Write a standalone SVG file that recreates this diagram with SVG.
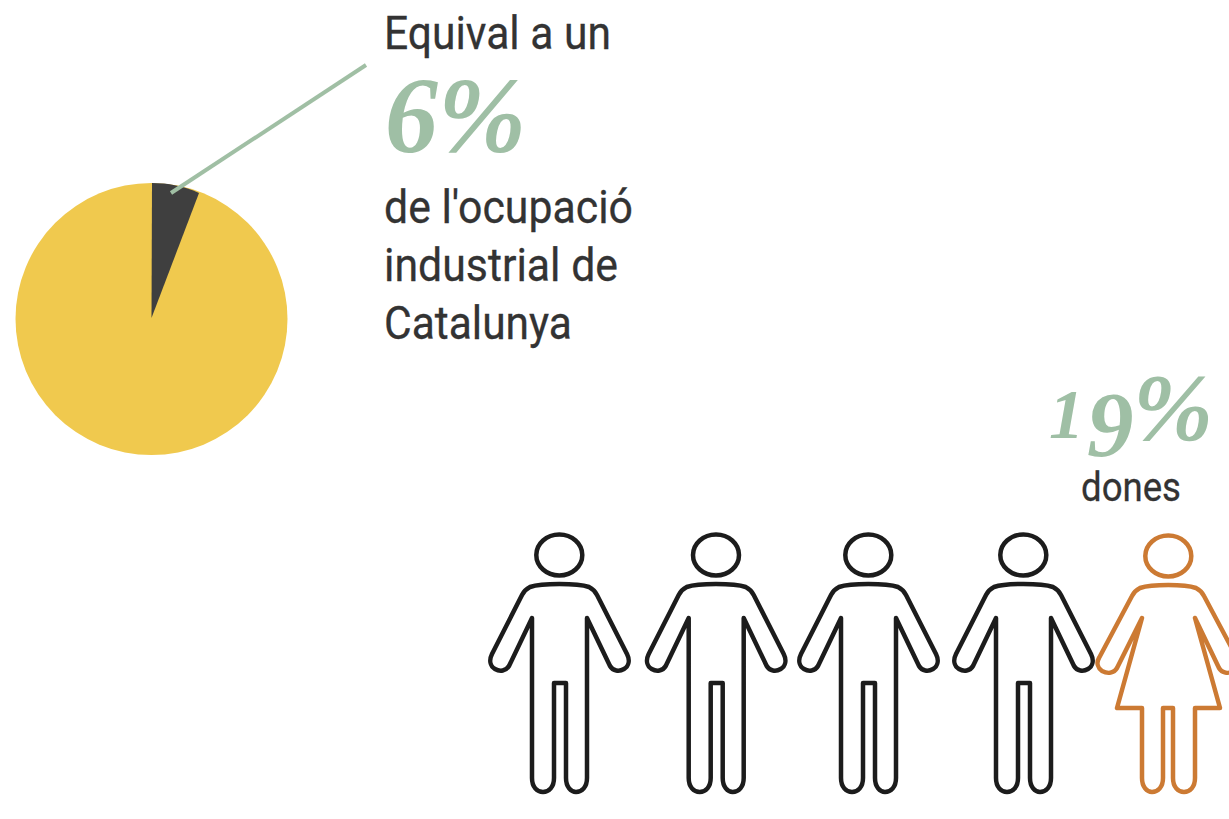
<svg xmlns="http://www.w3.org/2000/svg" width="1229" height="819" viewBox="0 0 1229 819">
<style>
.t{font-family:Roboto,"Liberation Sans",sans-serif;fill:#333333;font-size:47px;stroke:#333333;stroke-width:.3}
.n{font-family:"Liberation Serif","DejaVu Serif",serif;font-weight:bold;font-style:italic;fill:#9FBFA5}
.m{fill:none;stroke:#1c1c1c;stroke-width:4.500;stroke-linejoin:round}
.w{fill:none;stroke:#CC7A33;stroke-width:4.500;stroke-linejoin:round}
</style>
<defs>
<g id="man">
<ellipse cx="559.3" cy="555" rx="23" ry="20.5"/>
<path d="M559.3 584C545 584 536 585 530 587C526 589 524 591 522 595L492 654C489 660 490 666 495 669C500 672 506 671 509 666L532 618V778C532 787 537 792 543 792C549 792 554 787 554 778V683H566V778C566 787 571 792 576 792C582 792 587 787 587 778V618L610 666C613 671 619 672 624 669C629 666 630 660 627 654L597 595C595 591 593 589 589 587C583 585 574 584 559.3 584Z"/>
</g>
</defs>
<g id="pie">
<circle cx="151.500" cy="319" r="136" fill="#F0C94E"/>
<path d="M151.500 318L152 183C168 183 184 186 199 193Z" fill="#3F3F3F"/>
</g>
<g id="connectors">
<line x1="171" y1="193" x2="366" y2="65" stroke="#A0BFA4" stroke-width="4"/>
</g>
<g id="label-main">
<text class="t" x="384" y="49" textLength="227" lengthAdjust="spacingAndGlyphs">Equival a un</text>
<text class="n" x="385" y="152" font-size="108" textLength="141" lengthAdjust="spacingAndGlyphs">6%</text>
<text class="t" x="384" y="223" textLength="249" lengthAdjust="spacingAndGlyphs">de l'ocupació</text>
<text class="t" x="384" y="281" textLength="234" lengthAdjust="spacingAndGlyphs">industrial de</text>
<text class="t" x="384" y="339" textLength="188" lengthAdjust="spacingAndGlyphs">Catalunya</text>
</g>
<g id="label-dones">
<text class="n" y="438"><tspan x="1049" font-size="70">1</tspan><tspan x="1087" y="456" font-size="93">9</tspan><tspan x="1133" y="440" font-size="96">%</tspan></text>
<text class="t" x="1081" y="501" style="font-size:41px" textLength="100" lengthAdjust="spacingAndGlyphs">dones</text>
</g>
<g id="man-1" class="m"><use href="#man"/></g>
<g id="man-2" class="m" transform="translate(156.700 0)"><use href="#man"/></g>
<g id="man-3" class="m" transform="translate(309 0)"><use href="#man"/></g>
<g id="man-4" class="m" transform="translate(464 0)"><use href="#man"/></g>
<g id="woman" class="w">
<ellipse cx="1168.300" cy="556" rx="23" ry="20.500"/>
<path d="M1168.300 585C1155 585 1146 586 1140 588C1136 590 1134 592 1132 596L1099 658C1096 663 1098 668 1102 671C1108 674 1114 673 1117 668L1142 618L1117 708H1142V778C1142 787 1147 792 1152 792C1158 792 1163 787 1163 778V708H1173V778C1173 787 1178 792 1184 792C1190 792 1195 787 1195 778V708H1220L1195 618L1219 668C1222 673 1228 674 1234 671C1238 668 1240 663 1237 658L1204 596C1202 592 1200 590 1196 588C1190 586 1181 585 1168.300 585Z"/>
</g>
</svg>
